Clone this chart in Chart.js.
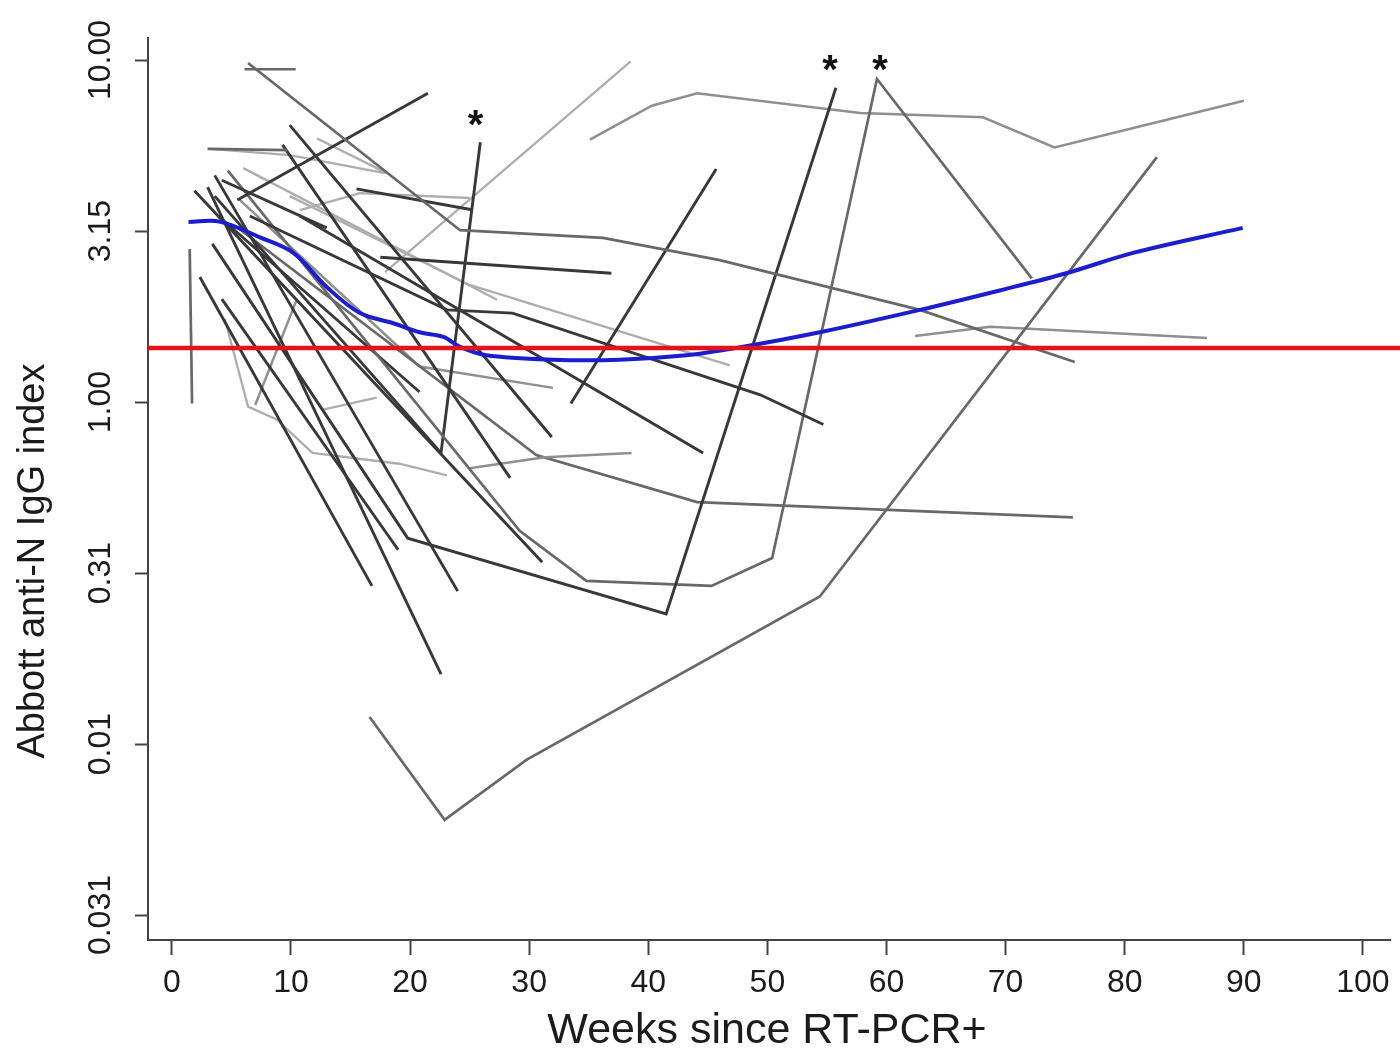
<!DOCTYPE html>
<html>
<head>
<meta charset="utf-8">
<script src="https://cdn.jsdelivr.net/npm/chart.js@4.4.0/dist/chart.umd.min.js"></script>
<style>
html,body{margin:0;padding:0;background:#ffffff;}
canvas{display:block;}
</style>
</head>
<body>
<canvas id="c" width="1400" height="1057"></canvas>
<script>
// ---------- data ----------
const xTickValues = [0, 10, 20, 30, 40, 50, 60, 70, 80, 90, 100];
const yTickValues = [10, 3.162, 1, 0.3162, 0.1, 0.03162];
const yTickLabels = ['10.00', '3.15', '1.00', '0.31', '0.01', '0.031'];
const xTitle = 'Weeks since RT-PCR+';
const yTitle = 'Abbott anti-N IgG index';

// one entry per participant: weeks since RT-PCR+ and index values
const subjectWeeks = [
  [6.1, 10.4],
  [6.4, 24.2, 36.2, 46.0, 62.8, 75.8],
  [5.5, 21.5],
  [3.0, 9.7],
  [4.2, 13.0],
  [15.5, 25.2],
  [17.5, 36.9],
  [1.5, 1.7],
  [2.35, 16.8],
  [3.0, 22.6],
  [3.6, 24.0],
  [4.2, 19.0],
  [9.9, 31.9],
  [9.3, 28.4],
  [1.9, 31.1],
  [10.75, 44.6],
  [6.55, 23.1, 28.6, 49.4, 54.7],
  [3.4, 19.8, 41.5, 55.75],
  [4.7, 29.2, 34.8, 45.3, 50.4, 59.2, 72.2],
  [3.6, 22.6, 25.9],
  [33.5, 45.7],
  [16.6, 22.9, 29.8, 54.4, 82.7],
  [35.1, 40.3, 44.1, 57.8, 68.1, 74.1, 90.0],
  [17.9, 38.5],
  [25.0, 31.3, 38.6],
  [4.45, 6.4, 8.8, 11.8, 19.1, 23.1],
  [12.7, 17.2],
  [7.0, 10.5],
  [62.4, 68.7, 86.9],
  [5.7, 30.6, 44.1, 75.65],
  [9.9, 25.0, 46.85],
  [3.2, 9.9, 17.9],
  [12.2, 18.05],
  [5.7, 20.8, 32.0],
  [3.9, 20.8],
  [6.0, 27.3],
  [10.75, 15.8, 25.0]
];
const subjectValues = [
  [9.4, 9.4],
  [9.8, 3.18, 3.02, 2.6, 1.86, 1.31],
  [3.9, 8.0],
  [5.5, 5.45],
  [4.45, 3.23],
  [4.2, 3.65],
  [2.65, 2.38],
  [2.8, 0.99],
  [2.32, 0.29],
  [4.25, 0.16],
  [4.6, 0.28],
  [2.0, 0.37],
  [6.45, 0.79],
  [5.65, 0.60],
  [4.15, 0.34],
  [3.5, 0.71],
  [3.5, 1.86, 1.82, 1.05, 0.86],
  [2.9, 0.40, 0.24, 8.3],
  [4.75, 0.42, 0.30, 0.29, 0.35, 8.8, 2.3],
  [4.0, 0.71, 5.75],
  [0.99, 4.8],
  [0.12, 0.06, 0.09, 0.27, 5.2],
  [5.85, 7.35, 8.0, 7.0, 6.8, 5.55, 7.6],
  [2.4, 9.9],
  [0.64, 0.69, 0.71],
  [1.75, 0.97, 0.89, 0.71, 0.66, 0.61],
  [0.95, 1.03],
  [0.98, 2.0],
  [1.56, 1.66, 1.54],
  [3.2, 0.70, 0.51, 0.46],
  [4.0, 2.2, 1.28],
  [5.5, 5.27, 4.67],
  [5.9, 4.67],
  [3.9, 1.27, 1.10],
  [3.5, 1.07],
  [4.83, 1.99],
  [3.64, 4.08, 3.95]
];
// grey shade group of each participant line (0 dark ... 3 light)
const subjectShade = [1,1,0,1,0,0,0,1,0,0,0,0,0,0,0,0,0,0,1,0,0,1,2,3,2,3,3,2,2,1,3,3,3,2,0,3,3];

// smoothed curve
const loessWeeks  = [1.4, 4.0, 7.4, 10.2, 13.0, 15.8, 18.6, 20.8, 22.8, 24.2, 26.4, 32.0, 37.6, 43.2, 47.4, 54.4, 62.8, 69.5, 75.1, 80.7, 89.9];
const loessValues = [3.36, 3.37, 3.03, 2.73, 2.17, 1.82, 1.70, 1.60, 1.55, 1.45, 1.37, 1.33, 1.33, 1.37, 1.44, 1.60, 1.86, 2.12, 2.38, 2.73, 3.23];

// positivity cut-off
const cutoffValue = 1.44;
const cutoffWeeks = [-2, 103.2];

// asterisks marking re-infection rises
const starWeeks  = [25.5, 55.25, 59.45];
const starValues = [6.9, 10.0, 10.0];

// ---------- styling ----------
const shadeColors = ['#383838', '#686868', '#8f8f8f', '#adadad'];
const shadeWidths = [2.9, 2.7, 2.5, 2.3];

const datasets = [];
subjectWeeks.forEach((wk, i) => {
  datasets.push({
    type: 'line',
    data: wk.map((w, j) => ({ x: w, y: subjectValues[i][j] })),
    borderColor: shadeColors[subjectShade[i]],
    borderWidth: shadeWidths[subjectShade[i]],
    pointRadius: 0,
    tension: 0,
    fill: false,
    order: 2
  });
});
datasets.push({
  type: 'line',
  data: loessWeeks.map((w, j) => ({ x: w, y: loessValues[j] })),
  borderColor: '#1d1dd0',
  borderWidth: 4,
  pointRadius: 0,
  tension: 0.35,
  fill: false,
  order: 1
});
datasets.push({
  type: 'line',
  data: cutoffWeeks.map(w => ({ x: w, y: cutoffValue })),
  borderColor: '#e3121b',
  borderWidth: 4.5,
  pointRadius: 0,
  fill: false,
  clip: false,
  order: 0
});

const textPlugin = {
  id: 'axisText',
  afterDraw(chart) {
    const ctx = chart.ctx;
    const xs = chart.scales.x, ys = chart.scales.y;
    ctx.save();
    ctx.fillStyle = '#1b1b1b';
    // y tick labels (rotated)
    ctx.font = '32px "Liberation Sans", Arial, sans-serif';
    ctx.textAlign = 'center';
    ctx.textBaseline = 'middle';
    yTickValues.forEach((v, i) => {
      const py = ys.getPixelForValue(v);
      ctx.save();
      ctx.translate(101, py);
      ctx.rotate(-Math.PI / 2);
      ctx.fillText(yTickLabels[i], 0, 0);
      ctx.restore();
    });
    // x tick labels
    xTickValues.forEach(v => {
      ctx.fillText(String(v), xs.getPixelForValue(v), 983);
    });
    // axis titles
    ctx.font = '43px "Liberation Sans", Arial, sans-serif';
    ctx.fillText(xTitle, 767, 1031);
    ctx.save();
    ctx.translate(34, 561);
    ctx.rotate(-Math.PI / 2);
    ctx.font = '38px "Liberation Sans", Arial, sans-serif';
    ctx.fillText(yTitle, 0, 0);
    ctx.restore();
    // asterisks
    ctx.font = 'bold 40px "Liberation Sans", Arial, sans-serif';
    ctx.textBaseline = 'alphabetic';
    ctx.fillStyle = '#111';
    starWeeks.forEach((w, i) => {
      ctx.fillText('*', xs.getPixelForValue(w), ys.getPixelForValue(starValues[i]) + 23);
    });
    ctx.restore();
  }
};

new Chart(document.getElementById('c'), {
  type: 'line',
  data: { datasets },
  options: {
    responsive: false,
    devicePixelRatio: 1,
    animation: false,
    layout: { padding: { left: 135, right: 10, top: 38, bottom: 102 } },
    plugins: { legend: { display: false }, tooltip: { enabled: false } },
    scales: {
      x: {
        type: 'linear',
        min: -2.0,
        max: 102.27,
        afterBuildTicks: s => { s.ticks = xTickValues.map(v => ({ value: v })); },
        ticks: { display: false },
        grid: { display: true, drawOnChartArea: false, drawTicks: true, tickLength: 15, tickColor: '#444', tickWidth: 2 },
        border: { display: true, color: '#444', width: 2 }
      },
      y: {
        type: 'logarithmic',
        min: 0.02673,
        max: 11.6,
        afterBuildTicks: s => { s.ticks = yTickValues.map(v => ({ value: v })); },
        ticks: { display: false },
        grid: { display: true, drawOnChartArea: false, drawTicks: true, tickLength: 13, tickColor: '#444', tickWidth: 2 },
        border: { display: true, color: '#444', width: 2 }
      }
    }
  },
  plugins: [textPlugin]
});
</script>
</body>
</html>
